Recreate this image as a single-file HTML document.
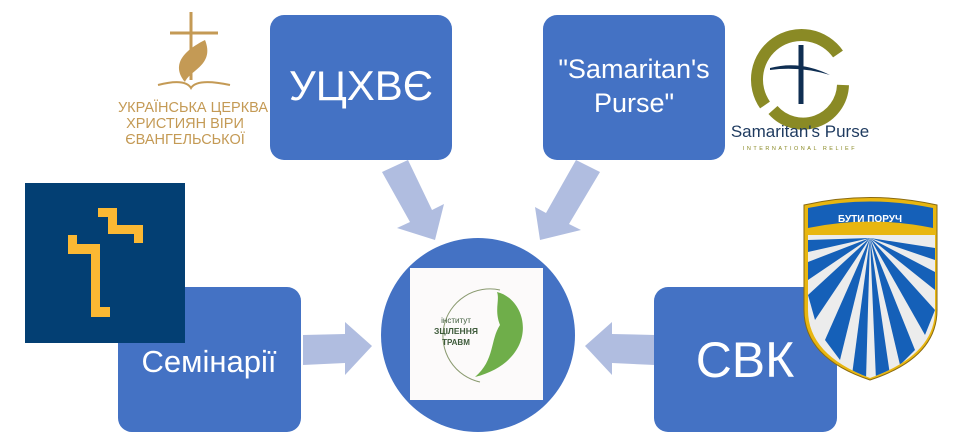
<!DOCTYPE html>
<html><head><meta charset="utf-8"><style>
html,body{margin:0;padding:0;background:#fff;width:963px;height:446px;overflow:hidden}
svg{display:block}
text{font-family:"Liberation Sans","DejaVu Sans",sans-serif}
</style></head><body>
<svg width="963" height="446" viewBox="0 0 963 446" xmlns="http://www.w3.org/2000/svg">
<g fill="#b0bde0">
<polygon points="303,335 345,334 345,322 372,346 345,375 345,363 303,365"/>
<polygon points="655,335 612,334 612,322 585,346 612,375 612,363 655,365"/>
<polygon points="382,172 408,160 432,210 444,204 435,240 397,228 410,222"/>
<polygon points="576,160 600,172 569,224 581,230 540,240 535,207 546,213"/>
</g>
<g fill="#4472c4">
<rect x="270" y="15" width="182" height="145" rx="14"/>
<rect x="543" y="15" width="182" height="145" rx="14"/>
<rect x="118" y="287" width="183" height="145" rx="14"/>
<rect x="654" y="287" width="183" height="145" rx="14"/>
<circle cx="478" cy="335" r="97"/>
</g>
<rect x="410" y="268" width="133" height="132" fill="#fcfafa"/>
<path d="M 500 290 A 47 47 0 1 0 480 382" fill="none" stroke="#8a9a70" stroke-width="1"/>
<path d="M497 292 C530 300 540 360 475 377 C495 360 490 340 500 325 C494 310 500 300 497 292Z" fill="#6fae4a"/>
<text x="456" y="323" font-size="8" fill="#3d5a3a" text-anchor="middle" font-family="Liberation Serif,serif">інститут</text>
<text x="456" y="334" font-size="8.5" fill="#3d5a3a" text-anchor="middle" font-weight="bold" font-family="Liberation Serif,serif">ЗЦІЛЕННЯ</text>
<text x="456" y="345" font-size="8" fill="#3d5a3a" text-anchor="middle" font-weight="bold" font-family="Liberation Serif,serif">ТРАВМ</text>
<g fill="#fff" text-anchor="middle">
<text x="361" y="100" font-size="42">УЦХВЄ</text>
<text x="634" y="78" font-size="27">"Samaritan's</text>
<text x="634" y="112" font-size="27">Purse"</text>
<text x="209" y="372" font-size="31">Семінарії</text>
<text x="745" y="377" font-size="50">СВК</text>
</g>
<g fill="#c49a55" stroke="#c49a55">
<line x1="191" y1="12" x2="191" y2="80" stroke-width="3"/>
<line x1="170" y1="33" x2="218" y2="33" stroke-width="3"/>
<path d="M205 40 C175 55 175 70 185 82 C190 70 215 65 205 40Z" stroke="none"/>
<path d="M158 85 Q185 78 191 88 Q197 78 230 85" fill="none" stroke-width="2"/>
</g>
<g fill="#c49a55" text-anchor="middle" font-size="14.5">
<text x="193" y="112">УКРАЇНСЬКА ЦЕРКВА</text>
<text x="185" y="128">ХРИСТИЯН ВІРИ</text>
<text x="185" y="144">ЄВАНГЕЛЬСЬКОЇ</text>
</g>
<rect x="25" y="183" width="160" height="160" fill="#033f73"/>
<polygon points="68,235 77,235 77,244 100,244 100,307 110,307 110,317 91,317 91,254 68,254" fill="#fbb833"/>
<polygon points="98,208 117,208 117,225 143,225 143,243 134,243 134,234 108,234 108,217 98,217" fill="#fbb833"/>
<path d="M 838 54 A 40 40 0 1 0 765 105" fill="none" stroke="#8a8a25" stroke-width="12"/>
<path d="M 773 110 A 40 40 0 0 0 843 85" fill="none" stroke="#8a8a25" stroke-width="12"/>
<path d="M770 68 Q800 60 830 75 Q800 66 770 70Z" fill="#0f2e52"/>
<line x1="801" y1="45" x2="801" y2="104" stroke="#0f2e52" stroke-width="5"/>
<text x="800" y="137" font-size="17" fill="#1e3a5f" text-anchor="middle" font-family="Liberation Serif,serif">Samaritan's Purse</text>
<text x="800" y="150" font-size="5.5" fill="#8a8a25" text-anchor="middle" letter-spacing="2.5">INTERNATIONAL RELIEF</text>
<defs><clipPath id="sh"><path d="M808 235 H935 V310 Q935 355 870 378 Q808 355 808 310Z"/></clipPath></defs>
<path d="M804 205 Q870 190 937 205 V310 Q937 358 870 380 Q804 358 804 310Z" fill="#e8b610" stroke="#8a6a10" stroke-width="1"/>
<path d="M808 208 Q870 195 933 208 V228 Q870 215 808 228Z" fill="#1560b8"/>
<text x="870" y="222" font-size="10" fill="#fff" font-weight="bold" text-anchor="middle">БУТИ ПОРУЧ</text>
<path d="M808 235 H935 V310 Q935 355 870 378 Q808 355 808 310Z" fill="#ececec"/>
<g clip-path="url(#sh)" fill="#1560b8">
<polygon points="870,238 808,240 808,252"/>
<polygon points="870,238 808,262 808,280"/>
<polygon points="870,238 808,295 815,320"/>
<polygon points="870,238 825,340 840,360"/>
<polygon points="870,238 852,375 866,380"/>
<polygon points="870,238 876,380 890,375"/>
<polygon points="870,238 900,365 915,350"/>
<polygon points="870,238 925,335 935,310"/>
<polygon points="870,238 935,290 935,272"/>
<polygon points="870,238 935,260 935,248"/>
</g>
</svg>
</body></html>
